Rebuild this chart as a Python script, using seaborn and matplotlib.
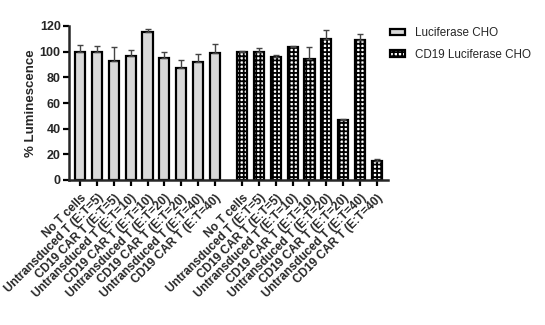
import numpy as np
import pandas as pd
import matplotlib
matplotlib.use("Agg")
import matplotlib.pyplot as plt
import seaborn as sns
from matplotlib.patches import Patch

sns.set_style("ticks")
plt.rcParams["font.family"] = ["Liberation Sans", "DejaVu Sans"]
plt.rcParams["hatch.linewidth"] = 1.3

conditions = ["No T cells",
              "Untransduced T (E:T=5)", "CD19 CAR T (E:T=5)",
              "Untransduced T (E:T=10)", "CD19 CAR T (E:T=10)",
              "Untransduced T (E:T=20)", "CD19 CAR T (E:T=20)",
              "Untransduced T (E:T=40)", "CD19 CAR T (E:T=40)"]
groups = ["Luciferase CHO", "CD19 Luciferase CHO"]

luc_mean = [99.5, 99.5, 92.7, 96.9, 115.4, 95.1, 87.0, 92.2, 99.2]
luc_sd = [5.9, 4.9, 11.2, 4.7, 2.0, 4.4, 6.5, 5.8, 6.5]
cd19_mean = [99.8, 99.5, 95.9, 103.4, 94.3, 110.1, 46.5, 108.9, 15.0]
cd19_sd = [0.7, 3.5, 1.3, 0.8, 9.6, 6.6, 0.8, 5.1, 1.1]

group_offset = [0.0, 9.65]

rows = []
for g, means, sds, off in zip(groups, [luc_mean, cd19_mean], [luc_sd, cd19_sd], group_offset):
    for i, (c, m, s) in enumerate(zip(conditions, means, sds)):
        rows.append({"group": g, "condition": c, "pos": off + i, "mean": m, "sd": s})
df = pd.DataFrame(rows)

fig = plt.figure(figsize=(5.45, 3.25), dpi=100)
ax = fig.add_axes([69 / 545, 1 - 180 / 325, (388 - 69) / 545, (180 - 26) / 325])

sns.barplot(data=df, x="pos", y="mean", hue="group", native_scale=True, dodge=False,
            palette={"Luciferase CHO": "#D9D9D9", "CD19 Luciferase CHO": "white"},
            edgecolor="black", linewidth=1.6, width=0.6, errorbar=None, legend=False, ax=ax)

# grid hatch on the CD19 target bars
for p in ax.patches:
    x = p.get_x() + p.get_width() / 2
    if x > 9:
        p.set_hatch("++++")

ax.errorbar(df["pos"], df["mean"], yerr=[np.zeros(len(df)), df["sd"]], fmt="none",
            ecolor="#444444", elinewidth=1.0, capsize=2.5, capthick=1.0, zorder=1)

ax.set_xlim(-0.68, group_offset[1] + 8 + 0.68)
ax.set_ylim(0, 120)
ax.set_yticks(range(0, 121, 20))
ax.set_xticks(df["pos"])
ax.set_xticklabels(df["condition"], rotation=45, ha="right", rotation_mode="anchor",
                   fontsize=8.6, fontweight="bold")
for lbl in ax.get_yticklabels():
    lbl.set_fontweight("bold")
    lbl.set_fontsize(9)
ax.set_xlabel("")
ax.set_ylabel("% Luminescence", fontsize=9.5, fontweight="bold", labelpad=2)
ax.tick_params(axis="both", width=1.6, length=4, color="black", pad=2)
ax.tick_params(axis="x", pad=4.5)
for s in ["left", "bottom"]:
    ax.spines[s].set_linewidth(1.8)
sns.despine(ax=ax)

handles = [Patch(facecolor="#D9D9D9", edgecolor="black", linewidth=1.6, label=groups[0]),
           Patch(facecolor="white", edgecolor="black", linewidth=1.6, hatch="++++", label=groups[1])]
fig.legend(handles=handles, loc="upper left", bbox_to_anchor=(390 / 545, 1 - 27 / 325),
           frameon=False, fontsize=8.4, handlelength=1.3, handleheight=0.5,
           handletextpad=0.85, labelspacing=0.85, borderpad=0, borderaxespad=0)

fig.savefig("out.png", dpi=100)
